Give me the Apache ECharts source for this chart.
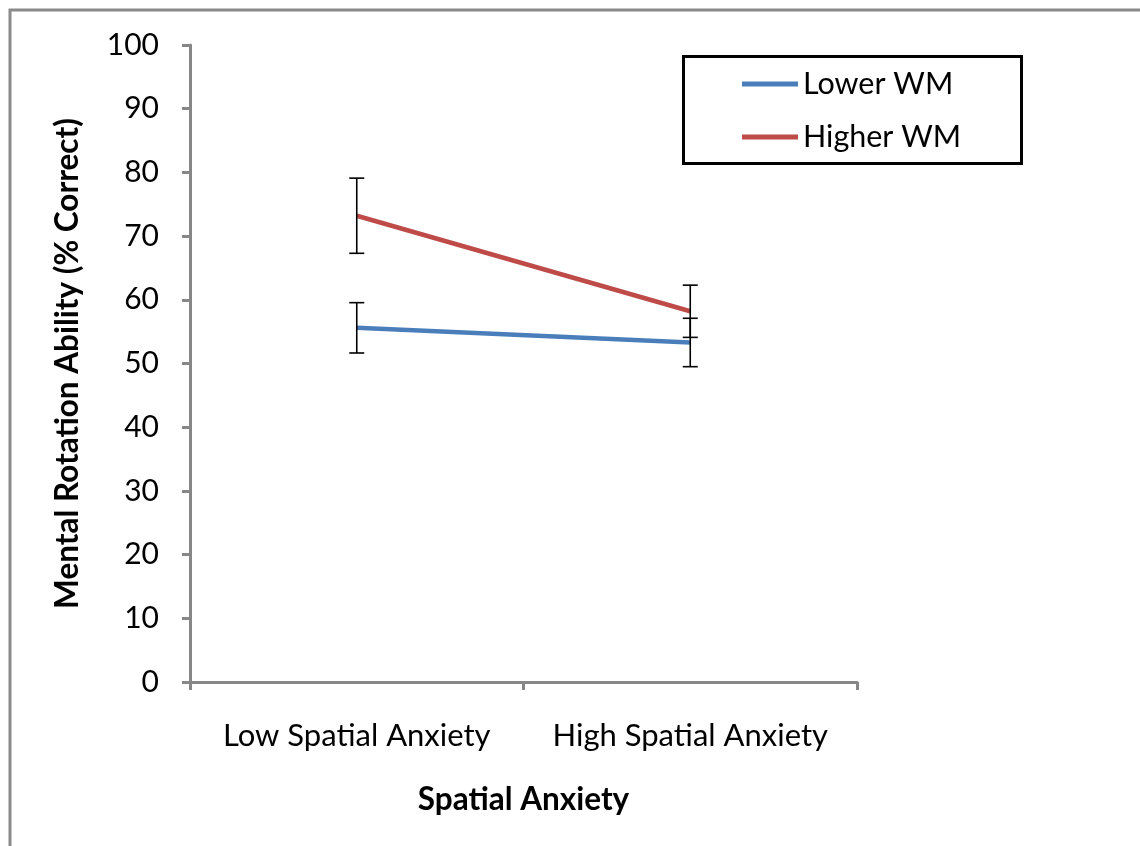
<!DOCTYPE html>
<html><head><meta charset="utf-8">
<script src="https://cdn.jsdelivr.net/npm/echarts@6/dist/echarts.min.js"></script>
<style>html,body{margin:0;padding:0;background:#fff}#c{width:1140px;height:846px}</style>
</head><body><div id="c"></div>
<script>
const categories = ['Low Spatial Anxiety', 'High Spatial Anxiety'];
const seriesNames = ['Lower WM', 'Higher WM'];
const lowerWM = [55.6, 53.3];
const lowerWMErr = [3.95, 3.8];
const higherWM = [73.2, 58.2];
const higherWMErr = [5.9, 4.1];
const yTicks = [0, 10, 20, 30, 40, 50, 60, 70, 80, 90, 100];

const FONT = 'Lato';
const chart = echarts.init(document.getElementById('c'), null, {renderer: 'canvas'});

function errData(vals, errs) {
  return vals.map((v, i) => [i, v - errs[i], v + errs[i]]);
}
function errSeries(vals, errs) {
  return {
    type: 'custom',
    data: errData(vals, errs),
    z: 5,
    silent: true,
    renderItem: function (params, api) {
      const x = api.value(0);
      const lo = api.coord([x, api.value(1)]);
      const hi = api.coord([x, api.value(2)]);
      const w = 7.5;
      const st = {stroke: '#000', lineWidth: 1.6};
      return {type: 'group', children: [
        {type: 'line', shape: {x1: hi[0], y1: hi[1], x2: lo[0], y2: lo[1]}, style: st},
        {type: 'line', shape: {x1: hi[0] - w, y1: hi[1], x2: hi[0] + w, y2: hi[1]}, style: st},
        {type: 'line', shape: {x1: lo[0] - w, y1: lo[1], x2: lo[0] + w, y2: lo[1]}, style: st}
      ]};
    }
  };
}

const axisGray = '#878787';
chart.setOption({
  animation: false,
  backgroundColor: '#fff',
  textStyle: {fontFamily: FONT},
  grid: {left: 190, right: 283, top: 45, bottom: 164},
  graphic: [
    {type: 'rect', shape: {x: 10, y: 10, width: 1200, height: 900}, style: {fill: 'none', stroke: '#8a8a8a', lineWidth: 3}, z: -1},
    {type: 'rect', shape: {x: 683.5, y: 56.5, width: 338, height: 107}, style: {fill: '#fff', stroke: '#000', lineWidth: 3}, z: 1}
  ],
  legend: {
    data: seriesNames,
    orient: 'vertical',
    left: 742, top: 68,
    padding: 0,
    itemWidth: 56, itemHeight: 5,
    itemGap: 21,
    icon: 'rect',
    z: 10,
    textStyle: {fontFamily: FONT, fontSize: 30.5, color: '#000', lineHeight: 32, padding: [0, 0, 0, 0]}
  },
  xAxis: {
    type: 'category',
    data: categories,
    boundaryGap: true,
    axisLine: {show: true, lineStyle: {color: axisGray, width: 3}},
    axisTick: {show: true, inside: false, length: 8, lineStyle: {color: axisGray, width: 3}},
    axisLabel: {fontFamily: FONT, fontSize: 31, color: '#000', margin: 38, interval: 0, hideOverlap: false},
    splitLine: {show: false},
    name: 'Spatial Anxiety',
    nameLocation: 'middle',
    nameGap: 102,
    nameTextStyle: {fontFamily: FONT, fontSize: 31.5, fontWeight: 'bold', color: '#000'}
  },
  yAxis: {
    type: 'value',
    min: 0, max: 100, interval: 10,
    axisLine: {show: true, lineStyle: {color: axisGray, width: 3}},
    axisTick: {show: true, inside: false, length: 8, lineStyle: {color: axisGray, width: 3}},
    axisLabel: {fontFamily: FONT, fontSize: 30, color: '#000', margin: 31,
      formatter: v => yTicks.includes(v) ? String(v) : ''},
    splitLine: {show: false},
    name: 'Mental Rotation Ability (% Correct)',
    nameLocation: 'middle',
    nameGap: 106,
    nameRotate: 90,
    nameTextStyle: {fontFamily: FONT, fontSize: 31.5, fontWeight: 'bold', color: '#000'}
  },
  series: [
    {name: seriesNames[0], type: 'line', data: lowerWM, symbol: 'none', lineStyle: {color: '#4a7ebb', width: 4.5}, itemStyle: {color: '#4a7ebb'}, z: 3},
    {name: seriesNames[1], type: 'line', data: higherWM, symbol: 'none', lineStyle: {color: '#be4b48', width: 4.5}, itemStyle: {color: '#be4b48'}, z: 3},
    errSeries(lowerWM, lowerWMErr),
    errSeries(higherWM, higherWMErr)
  ]
});
</script></body></html>
